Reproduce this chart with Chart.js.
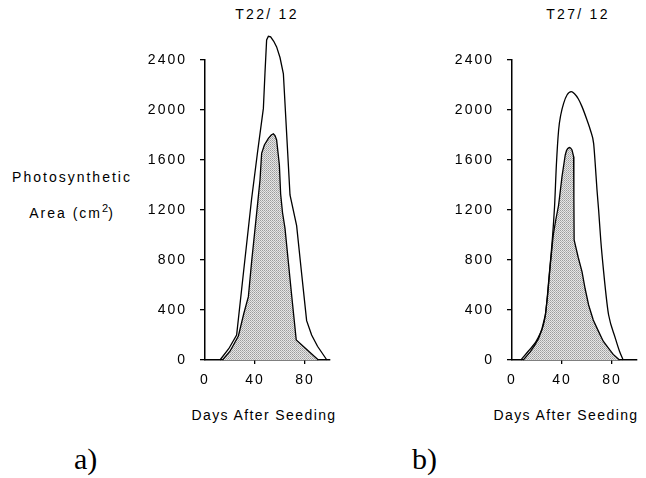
<!DOCTYPE html>
<html>
<head>
<meta charset="utf-8">
<script src="https://cdn.jsdelivr.net/npm/chart.js@4.4.1/dist/chart.umd.min.js"></script>
<style>
  html, body { margin: 0; padding: 0; background: #fff; }
  body { width: 646px; height: 478px; position: relative; overflow: hidden; font-family: "Liberation Sans", Arial, sans-serif; color: #000; }
  canvas { position: absolute; top: 0; }
  .txt { position: absolute; text-align: center; white-space: nowrap; font-size: 14px; }
  #ylabel { left: 0; top: 159px; width: 144px; letter-spacing: 2px; line-height: 36px; }
  #ylabel .sup { position: relative; top: -6px; font-size: 11px; letter-spacing: 0; }
  .ptitle { top: 6px; width: 200px; line-height: 17px; letter-spacing: 2.3px; padding-left: 2px; }
  .xtitle { top: 406px; width: 240px; line-height: 18px; letter-spacing: 1.4px; padding-left: 1px; }
  .tag { position: absolute; top: 444px; font-family: "Liberation Serif", "Times New Roman", serif; font-size: 30px; line-height: 30px; }
</style>
</head>
<body>
<div id="ylabel" class="txt">Photosynthetic<br>Area (cm<span class="sup">2</span>)</div>
<div id="titleA" class="txt ptitle" style="left:165px"></div>
<div id="titleB" class="txt ptitle" style="left:476px"></div>
<div id="xtitleA" class="txt xtitle" style="left:143px"></div>
<div id="xtitleB" class="txt xtitle" style="left:445px"></div>
<canvas id="chartA" width="220" height="400" style="left:130px"></canvas>
<canvas id="chartB" width="206" height="400" style="left:440px"></canvas>
<div class="tag" style="left:74px">a)</div>
<div class="tag" style="left:412px">b)</div>
<script>
const font = '"Liberation Sans", Arial, sans-serif'

const xTicks = [0, 40, 80]
const yTicks = [0, 400, 800, 1200, 1600, 2000, 2400]
const xTitle = 'Days After Seeding'
const titles = ['T22/ 12', 'T27/ 12']

// a) T22/12 - outer curve
const aOuterDays = [12, 19, 25.3, 31, 37.3, 42, 46.7, 48, 49.3, 50.7, 52.5, 55, 57.3, 60, 62.7, 68, 73.3, 77, 81.3, 85.3, 90, 97.5]
const aOuterArea = [0, 90, 200, 720, 1290, 1660, 2013, 2300, 2560, 2590, 2585, 2550, 2505, 2420, 2290, 1320, 1075, 720, 315, 200, 110, 0]
// a) T22/12 - shaded curve
const aInnerDays = [14, 20, 26.7, 31, 34.7, 37.3, 41.3, 44, 45.3, 47.5, 50.7, 53, 54.7, 56, 57.3, 59.5, 60.5, 62, 64, 69.3, 73, 90.7]
const aInnerArea = [0, 70, 192, 370, 507, 787, 1173, 1440, 1653, 1720, 1773, 1800, 1810, 1795, 1760, 1560, 1330, 1180, 1053, 520, 160, 0]

// b) T27/12 - outer curve
const bOuterDays = [7, 13, 21, 26.7, 29.3, 34, 35.5, 37.3, 39, 41.3, 44, 47.4, 50, 53, 56, 60, 63, 65.3, 66.5, 68, 69.3, 71, 73.3, 76, 77.3, 82.7, 86, 89]
const bOuterArea = [0, 70, 180, 360, 627, 1220, 1560, 1840, 1960, 2053, 2120, 2147, 2130, 2090, 2027, 1920, 1830, 1733, 1580, 1360, 1200, 960, 707, 453, 360, 173, 70, 0]
// b) T27/12 - shaded curve
const bInnerDays = [9, 12, 14.7, 18, 21.3, 24, 26.7, 28.5, 30.6, 33, 35, 37.3, 40, 42.6, 43.6, 44.5, 45.3, 46.1, 47, 48, 49.3, 49.5, 49.7, 53, 56, 58.5, 61.3, 65, 69.3, 73, 77.3, 81, 86]
const bInnerArea = [0, 35, 67, 115, 173, 250, 360, 520, 760, 1000, 1120, 1240, 1467, 1640, 1675, 1690, 1698, 1700, 1695, 1680, 1627, 1300, 960, 820, 707, 570, 440, 320, 227, 150, 93, 45, 0]

document.getElementById('titleA').textContent = titles[0]
document.getElementById('titleB').textContent = titles[1]
document.getElementById('xtitleA').textContent = xTitle
document.getElementById('xtitleB').textContent = xTitle

function pts(days, vals) {
    return days.map((d, i) => ({x: d, y: vals[i]}))
}

function stipple() {
    const c = document.createElement('canvas')
    c.width = 2
    c.height = 2
    const g = c.getContext('2d')
    g.fillStyle = '#e6e6e6'
    g.fillRect(0, 0, 2, 2)
    g.fillStyle = '#9c9c9c'
    g.fillRect(0, 0, 1, 1)
    g.fillStyle = '#b4b4b4'
    g.fillRect(1, 1, 1, 1)
    return g.createPattern(c, 'repeat')
}

// tracking on tick labels, the scan has wide letter spacing
const textSpacing = {
    id: 'textSpacing',
    beforeLayout(chart) { chart.ctx.letterSpacing = '2px' },
    beforeDraw(chart) { chart.ctx.letterSpacing = '2px' }
}

function makeChart(id, outerDays, outerArea, innerDays, innerArea, yWidth, padRight, smoothOuter) {
    const outerCurve = smoothOuter ? {cubicInterpolationMode: 'monotone'} : {tension: 0}
    return new Chart(document.getElementById(id), {
        type: 'line',
        data: {
            datasets: [
                {data: pts(outerDays, outerArea), borderColor: '#000', borderWidth: 1.3, pointRadius: 0, fill: false, clip: false, ...outerCurve},
                {data: pts(innerDays, innerArea), borderColor: '#000', borderWidth: 1.3, pointRadius: 0, fill: 'origin', backgroundColor: stipple(), clip: false, tension: 0}
            ]
        },
        options: {
            responsive: false,
            animation: false,
            layout: {padding: {left: 0, right: padRight, top: 60, bottom: 0}},
            plugins: {
                legend: {display: false},
                tooltip: {enabled: false}
            },
            scales: {
                x: {
                    type: 'linear', min: 0, max: 100,
                    afterBuildTicks: s => { s.ticks = xTicks.map(v => ({value: v})) },
                    afterFit: s => { s.height = 40 },
                    grid: {drawOnChartArea: false, tickLength: 4, lineWidth: 1.3,
                        color: c => (c.tick && c.tick.value === 0) ? 'rgba(0,0,0,0)' : '#000'},
                    border: {display: true, color: '#000', width: 1.5},
                    ticks: {color: '#000', font: {family: font, size: 14}, padding: 8, maxRotation: 0, autoSkip: false,
                        callback: v => String(v)}
                },
                y: {
                    min: 0, max: 2400,
                    afterBuildTicks: s => { s.ticks = yTicks.map(v => ({value: v})) },
                    afterFit: s => { s.width = yWidth },
                    grid: {drawOnChartArea: false, tickLength: 5, lineWidth: 1.3, color: '#000'},
                    border: {display: true, color: '#000', width: 1.5},
                    ticks: {color: '#000', font: {family: font, size: 14}, padding: 13, autoSkip: false,
                        callback: v => String(v)}
                }
            }
        },
        plugins: [textSpacing]
    })
}

let chartA = makeChart('chartA', aOuterDays, aOuterArea, aInnerDays, aInnerArea, 75, 20, false)
let chartB = makeChart('chartB', bOuterDays, bOuterArea, bInnerDays, bInnerArea, 72, 9, true)
</script>
</body>
</html>
